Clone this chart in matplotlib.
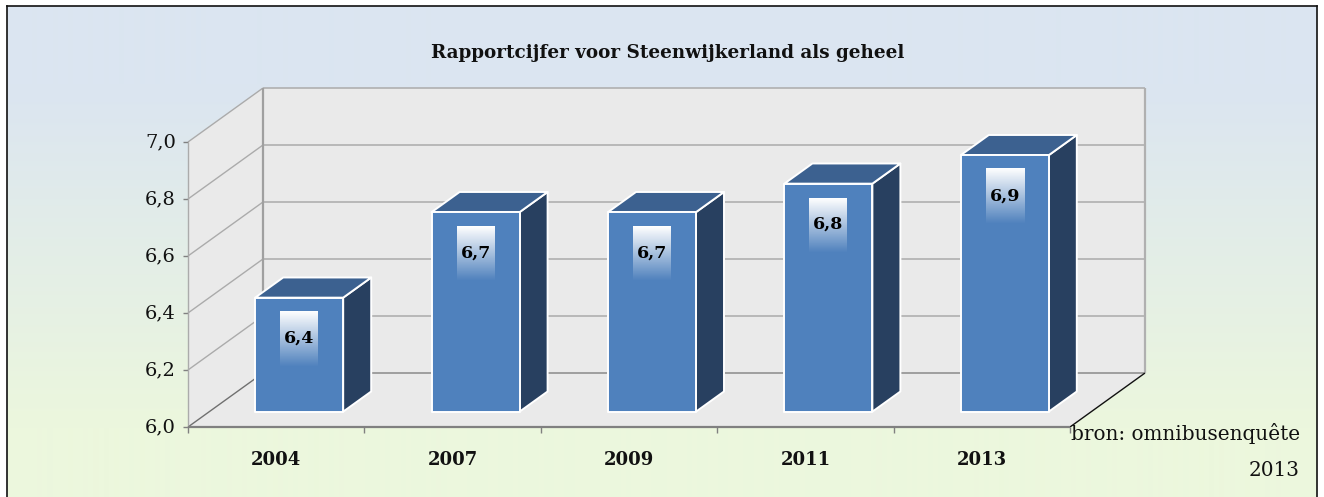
import numpy as np
import matplotlib
matplotlib.use("Agg")
import matplotlib.pyplot as plt
from matplotlib.patches import Polygon

categories = ["2004", "2007", "2009", "2011", "2013"]
values = [6.4, 6.7, 6.7, 6.8, 6.9]
value_labels = ["6,4", "6,7", "6,7", "6,8", "6,9"]
y_ticks = [6.0, 6.2, 6.4, 6.6, 6.8, 7.0]
y_tick_labels = ["6,0", "6,2", "6,4", "6,6", "6,8", "7,0"]
title = "Rapportcijfer voor Steenwijkerland als geheel"
source_lines = ["bron: omnibusenquête", "2013"]

W, H = 1324, 497
plt.rcParams["font.family"] = ["DejaVu Serif"]
fig = plt.figure(figsize=(W / 100, H / 100), dpi=100, facecolor="white")

# background panel
bg = fig.add_axes([7 / W, 0, 1310 / W, 491 / H])
top_c = np.array([219, 229, 241]) / 255
bot_c = np.array([236, 247, 221]) / 255
t = np.clip((np.linspace(0, 1, 491) - 0.16) / 0.70, 0, 1)[:, None]
grad = (top_c * (1 - t) + bot_c * t)[:, None, :]
bg.imshow(grad, aspect="auto", extent=[0, 1, 0, 1])
bg.set_xticks([]); bg.set_yticks([])
for s in bg.spines.values():
    s.set_color("#111111"); s.set_linewidth(1.2)
bg.spines["bottom"].set_visible(False)

# plot axes: front plane of the 3D box
PX_L, PX_R, PX_B, PX_T = 188, 1070, 427, 142
ax = fig.add_axes([PX_L / W, (H - PX_B) / H, (PX_R - PX_L) / W, (PX_B - PX_T) / H])
ax.patch.set_alpha(0)
for s in ax.spines.values():
    s.set_visible(False)
n = len(categories)
ymin, ymax = y_ticks[0], y_ticks[-1]
px_x = (PX_R - PX_L) / n
px_y = (PX_B - PX_T) / (ymax - ymin)
DX = 75 / px_x
DY = 54 / px_y


def proj(x, y, d=1.0):
    return (x + d * DX, y + d * DY)


GRID = "#ababab"
WALL = "#eaeaea"
# walls and floor
ax.add_patch(Polygon([proj(0, ymin), proj(0, ymax), proj(n, ymax), proj(n, ymin)], fc=WALL, ec="none", clip_on=False, zorder=1))
ax.add_patch(Polygon([(0, ymin), (0, ymax), proj(0, ymax), proj(0, ymin)], fc=WALL, ec="none", clip_on=False, zorder=1))
ax.add_patch(Polygon([(0, ymin), (n, ymin), proj(n, ymin), proj(0, ymin)], fc=WALL, ec="none", clip_on=False, zorder=1))


def line(xs, ys, c=GRID, lw=1.0, z=2):
    ax.plot(xs, ys, color=c, lw=lw, clip_on=False, zorder=z, solid_capstyle="butt")


for v, lab in zip(y_ticks, y_tick_labels):
    bx, by = proj(0, v)
    ex, ey = proj(n, v)
    dark = v == ymin
    line([0, bx], [v, by], c="#707070" if dark else GRID, lw=1.0)
    line([bx, ex], [by, ey], c="#8a8a8a" if dark else GRID, lw=1.1)
    line([-5 / px_x, 0], [v, v], c="#808080", lw=1.0)
    ax.text(-12 / px_x, v, lab, ha="right", va="center", fontsize=14, color="#111111", clip_on=False)

line([0, 0], [ymin, ymax], lw=1.0)
bx, by = proj(0, ymin); tx, ty = proj(0, ymax)
line([bx, tx], [by, ty], c="#a0a0a0", lw=1.6)
bx, by = proj(n, ymin); tx, ty = proj(n, ymax)
line([bx, tx], [by, ty], c="#b0b0b0", lw=1.6)
line([n, bx], [ymin, by], c="#111111", lw=1.0, z=3)
line([0, n], [ymin, ymin], c="#808080", lw=1.6, z=3)
for i in range(n + 1):
    line([i, i], [ymin, ymin - 6 / px_y], c="#808080", lw=1.0, z=3)

# bars
W_BAR = 88 / px_x
D0, D1 = 23 / 75, 51 / 75
SHIFT = -1.2 / px_y
FRONT, TOP, SIDE = "#4f81bd", "#3c6190", "#284060"
box = np.ones((64, 2, 4))
box[:, :, 3] = np.linspace(1, 0, 64)[:, None]
for i, (v, lab) in enumerate(zip(values, value_labels)):
    l = i + (1 - W_BAR) / 2
    r = l + W_BAR
    v_s = v + SHIFT
    b_s = ymin + SHIFT
    kw = dict(ec="white", lw=1.4, joinstyle="round", clip_on=False, zorder=5)
    ax.add_patch(Polygon([proj(r, b_s, D0), proj(r, b_s, D1), proj(r, v_s, D1), proj(r, v_s, D0)], fc=SIDE, **kw))
    ax.add_patch(Polygon([proj(l, v_s, D0), proj(r, v_s, D0), proj(r, v_s, D1), proj(l, v_s, D1)], fc=TOP, **kw))
    ax.add_patch(Polygon([proj(l, b_s, D0), proj(r, b_s, D0), proj(r, v_s, D0), proj(l, v_s, D0)], fc=FRONT, **kw))
    cx, cy = proj((l + r) / 2, v_s, D0)
    hw = 19 / px_x
    y1 = cy - 14 / px_y
    y0 = y1 - 55 / px_y
    ax.imshow(box, extent=[cx - hw, cx + hw, y0, y1], aspect="auto", zorder=6, clip_on=False, interpolation="bilinear")
    ax.text(cx, (y0 + y1) / 2 + 1 / px_y, lab, ha="center", va="center", fontsize=12.5, fontweight="bold", color="black", zorder=7, clip_on=False)
    ax.text(i + 0.5, ymin - 33 / px_y, categories[i], ha="center", va="center", fontsize=13, fontweight="bold", color="#111111", clip_on=False)

ax.set_xlim(0, n)
ax.set_ylim(ymin, ymax)
ax.set_xticks([]); ax.set_yticks([])

fig.text(668 / W, 1 - 53 / H, title, ha="center", va="center", fontsize=13.2, fontweight="bold", color="#111111")
fig.text(1300 / W, 1 - 434 / H, source_lines[0], ha="right", va="center", fontsize=14.4, color="#111111")
fig.text(1300 / W, 1 - 470 / H, source_lines[1], ha="right", va="center", fontsize=14.4, color="#111111")

fig.savefig("out.png", dpi=100, facecolor="white")
